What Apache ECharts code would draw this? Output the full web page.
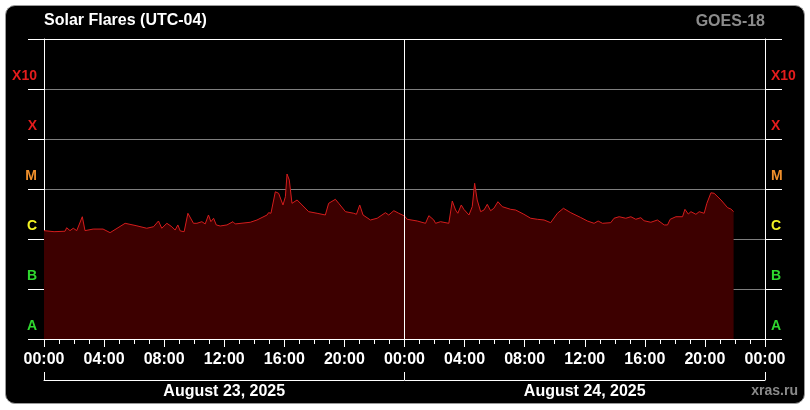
<!DOCTYPE html>
<html><head><meta charset="utf-8">
<script src="https://cdn.jsdelivr.net/npm/echarts@6/dist/echarts.min.js"></script>
<style>
html,body{margin:0;padding:0;background:#fff;}
#frame{position:absolute;left:5px;top:5px;width:798px;height:397px;background:#000;border:1px solid #9a9a9a;border-radius:10px;}
#chart{position:absolute;left:0;top:0;width:810px;height:410px;}
</style></head><body>
<div id="frame"></div><div id="chart"></div>
<script>
// time in hours since 2025-08-23 00:00 (UTC-04)
const hours = [0,0.67,1.4,1.51,1.73,1.95,2.18,2.55,2.73,3.27,3.93,4.4,5.4,6.13,6.84,7.29,7.62,7.84,8.18,8.51,8.73,8.91,9.07,9.33,9.58,9.95,10.18,10.51,10.73,10.95,11.11,11.29,11.47,11.73,12.18,12.58,12.73,13.73,14.18,14.85,14.95,15.11,15.4,15.62,15.91,16.07,16.18,16.33,16.51,16.85,17.18,17.62,18.18,18.73,18.95,19.4,19.62,20.07,20.62,20.8,21.02,21.24,21.73,22.18,22.73,22.95,23.29,23.62,24.0,24.18,24.85,25.4,25.62,25.95,26.07,26.4,26.95,27.18,27.4,27.55,27.78,27.95,28.07,28.29,28.51,28.67,28.84,29.07,29.29,29.51,29.73,29.95,30.22,30.51,31.07,31.4,31.95,32.4,32.84,33.29,33.73,34.18,34.58,35.07,35.73,36.18,36.62,36.89,37.18,37.73,37.95,38.29,38.73,39.07,39.4,39.73,39.95,40.4,40.84,41.29,41.51,41.69,42.07,42.51,42.67,42.89,43.07,43.4,43.62,43.95,44.13,44.4,44.62,45.07,45.51,45.73,45.91];
// X-ray flux, W/m^2
const flux = [1.47e-6,1.40e-6,1.43e-6,1.68e-6,1.47e-6,1.64e-6,1.47e-6,2.79e-6,1.47e-6,1.58e-6,1.58e-6,1.34e-6,2.06e-6,1.85e-6,1.64e-6,1.76e-6,2.29e-6,1.64e-6,2.06e-6,1.76e-6,1.51e-6,1.91e-6,1.45e-6,1.40e-6,3.27e-6,2.06e-6,2.06e-6,2.22e-6,2.00e-6,3.02e-6,2.22e-6,2.60e-6,1.91e-6,1.82e-6,1.91e-6,2.22e-6,2.00e-6,2.16e-6,2.40e-6,3.02e-6,3.36e-6,3.27e-6,8.8e-6,8.2e-6,4.79e-6,7.0e-6,1.995e-5,1.51e-5,5.17e-6,6.03e-6,4.79e-6,3.52e-6,3.27e-6,3.02e-6,5.17e-6,6.22e-6,5.17e-6,3.52e-6,3.27e-6,3.12e-6,4.79e-6,3.02e-6,2.40e-6,2.60e-6,3.36e-6,3.02e-6,3.68e-6,3.27e-6,2.88e-6,2.48e-6,2.29e-6,2.06e-6,2.93e-6,2.40e-6,2.06e-6,2.22e-6,2.06e-6,5.75e-6,3.80e-6,3.27e-6,4.79e-6,3.92e-6,4.23e-6,3.02e-6,4.43e-6,1.30e-5,6.03e-6,3.52e-6,3.80e-6,4.94e-6,3.68e-6,4.11e-6,5.57e-6,4.43e-6,3.92e-6,3.80e-6,3.12e-6,2.60e-6,2.48e-6,2.40e-6,2.12e-6,3.27e-6,4.11e-6,3.36e-6,2.69e-6,2.29e-6,2.06e-6,2.29e-6,2.06e-6,2.12e-6,2.60e-6,2.79e-6,2.60e-6,2.79e-6,2.48e-6,2.67e-6,2.32e-6,2.16e-6,2.40e-6,1.91e-6,1.91e-6,2.48e-6,2.79e-6,2.79e-6,3.92e-6,3.16e-6,3.52e-6,3.12e-6,3.52e-6,3.27e-6,5.17e-6,8.4e-6,8.2e-6,6.03e-6,4.23e-6,3.98e-6,3.52e-6];
const hourLabels = ['00:00','04:00','08:00','12:00','16:00','20:00','00:00','04:00','08:00','12:00','16:00','20:00','00:00'];
const dateLabels = ['August 23, 2025','August 24, 2025'];
const classLabels = ['A','B','C','M','X','X10'];
const classColors = ['#2fd82f','#2fd82f','#f4f424','#f0902c','#e41c1c','#e41c1c'];

const font = "Arial, 'Liberation Sans', sans-serif";
const rich = {};
classLabels.forEach((l,i)=>{ rich['c'+i] = {color:classColors[i], fontWeight:'bold', fontSize:14, fontFamily:font}; });
function yAxis(side){
  return {
    gridIndex:0, type:'log', logBase:10, min:1e-8, max:1e-2, splitNumber:6, position:side,
    axisLine:{show:true, onZero:false, lineStyle:{color:'#fff', width:1}},
    axisTick:{show:false},
    minorTick:{show:false},
    splitLine:{show:side==='left', lineStyle:{color:'#7f7f7f', width:1}},
    axisLabel:{
      show:true, inside:false, margin:side==='left'?7:6, padding:[0,0,26,0],
      formatter:function(v){ const i = Math.round(Math.log10(v)) + 8; return (i>=0 && i<classLabels.length) ? '{c'+i+'|'+classLabels[i]+'}' : ''; },
      rich:rich
    }
  };
}
// outer tick strips: white decade lines just outside the plot on each side
function tickStripY(g){
  return {gridIndex:g, type:'log', min:1e-8, max:1e-2, axisLabel:{show:false},
    axisLine:{lineStyle:{color:'rgba(0,0,0,0)'}},
    axisTick:{length:0, lineStyle:{color:'rgba(0,0,0,0)'}},
    splitLine:{show:true, lineStyle:{color:'#fff', width:1}}};
}
function tickStripX(g){
  return {gridIndex:g, type:'value', min:0, max:1, show:false};
}
const chart = echarts.init(document.getElementById('chart'), null, {renderer:'canvas'});
chart.setOption({
  animation:false,
  backgroundColor:'transparent',
  grid:[
    {left:44, right:45, top:39, bottom:71, containLabel:false},
    {left:28, width:16, top:39, bottom:71},
    {left:765, width:17, top:39, bottom:71}
  ],
  graphic:[
    {type:'text', style:{text:'Solar Flares (UTC-04)', x:44, y:21, fill:'#fff', font:'bold 16px '+font, textAlign:'left', textVerticalAlign:'middle'}},
    {type:'text', style:{text:'GOES-18', x:765, y:22, fill:'#8c8c8c', font:'bold 16px '+font, textAlign:'right', textVerticalAlign:'middle'}},
    {type:'text', style:{text:'xras.ru', x:798, y:391, fill:'#8a8a8a', font:'bold 14px '+font, textAlign:'right', textVerticalAlign:'middle'}}
  ],
  xAxis:[
    {gridIndex:0, type:'value', min:0, max:48, interval:4, position:'bottom',
     axisLine:{show:true, onZero:false, lineStyle:{color:'#fff', width:1}},
     axisTick:{show:true, inside:false, length:8, lineStyle:{color:'#fff'}},
     minorTick:{show:true, splitNumber:4, length:5, lineStyle:{color:'#fff'}},
     splitLine:{show:false}, minorSplitLine:{show:false},
     axisLabel:{color:'#fff', fontSize:16, fontWeight:'bold', fontFamily:font, margin:13,
       formatter:function(v){ return hourLabels[Math.round(v/4)]; }}
    },
    {gridIndex:0, type:'category', data:dateLabels, position:'bottom', offset:41,
     axisLine:{show:true, onZero:false, lineStyle:{color:'#fff', width:1}},
     axisTick:{show:true, inside:true, length:8, lineStyle:{color:'#fff'}},
     axisLabel:{color:'#fff', fontSize:16, fontWeight:'bold', fontFamily:font, margin:4},
     splitLine:{show:false}
    },
    {gridIndex:0, type:'value', min:0, max:48, position:'top',
     axisLine:{show:true, onZero:false, lineStyle:{color:'#fff', width:1}},
     axisTick:{show:false}, axisLabel:{show:false}, splitLine:{show:false}
    },
    tickStripX(1), tickStripX(2)
  ],
  yAxis:[yAxis('left'), yAxis('right'), tickStripY(1), tickStripY(2)],
  series:[{
    type:'line', xAxisIndex:0, yAxisIndex:0,
    data:hours.map((h,i)=>[h, flux[i]]),
    showSymbol:false, symbol:'none', smooth:false,
    lineStyle:{color:'#d41c1c', width:1},
    itemStyle:{color:'#d41c1c'},
    areaStyle:{color:'#3d0000', opacity:1, origin:'start'},
    markLine:{silent:true, symbol:'none', animation:false, label:{show:false},
      lineStyle:{color:'#fff', width:1, type:'solid'}, data:[{xAxis:24}]}
  }]
});
</script>
</body></html>
